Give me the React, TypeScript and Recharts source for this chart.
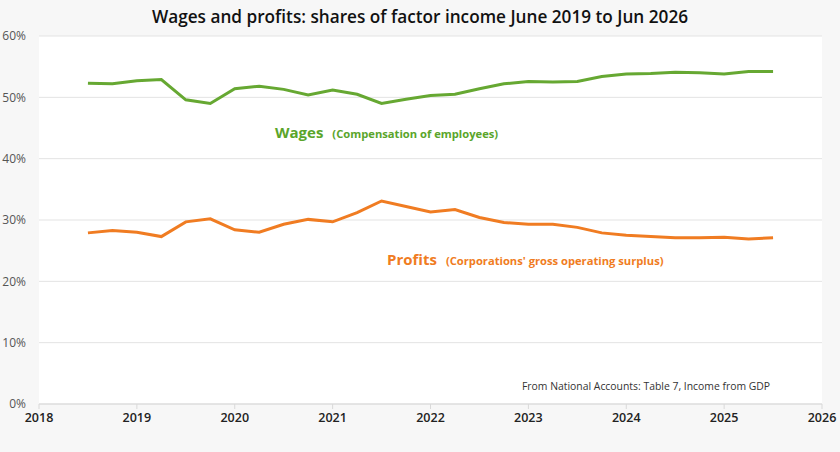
import { LineChart, Line, XAxis, YAxis, CartesianGrid } from "recharts";

// quarterly observations, as decimal years
const quarters = [
  2018.5, 2018.75, 2019.0, 2019.25, 2019.5, 2019.75, 2020.0, 2020.25, 2020.5, 2020.75,
  2021.0, 2021.25, 2021.5, 2021.75, 2022.0, 2022.25, 2022.5, 2022.75, 2023.0, 2023.25,
  2023.5, 2023.75, 2024.0, 2024.25, 2024.5, 2024.75, 2025.0, 2025.25, 2025.5,
];

// wages share (compensation of employees), %
const wages = [
  52.3, 52.2, 52.7, 52.9, 49.6, 49.0, 51.4, 51.8, 51.3, 50.4,
  51.2, 50.5, 49.0, 49.7, 50.3, 50.5, 51.4, 52.2, 52.6, 52.5,
  52.6, 53.4, 53.8, 53.9, 54.1, 54.0, 53.8, 54.2, 54.2,
];

// profits share (corporations' gross operating surplus), %
const profits = [
  27.9, 28.3, 28.0, 27.3, 29.7, 30.2, 28.4, 28.0, 29.3, 30.1,
  29.7, 31.2, 33.1, 32.2, 31.3, 31.7, 30.4, 29.6, 29.3, 29.3,
  28.8, 27.9, 27.5, 27.3, 27.1, 27.1, 27.2, 26.9, 27.1,
];

const yearTicks = [2018, 2019, 2020, 2021, 2022, 2023, 2024, 2025, 2026];
const pctTicks = [0, 10, 20, 30, 40, 50, 60];

const title = "Wages and profits: shares of factor income June 2019 to Jun 2026";
const source = "From National Accounts: Table 7, Income from GDP";

const GREEN = "#66a832";
const ORANGE = "#f07c22";
const FONT = "'Open Sans', 'Noto Sans', sans-serif";

export default function App() {
  const data = quarters.map((q, i) => ({ q, wages: wages[i], profits: profits[i] }));

  return (
    <div
      style={{
        position: "absolute",
        left: 0,
        top: 0,
        width: 840,
        height: 452,
        background: "#f7f7f7",
        fontFamily: FONT,
      }}
    >
      <div
        style={{
          position: "absolute",
          top: 5,
          left: 0,
          width: 840,
          textAlign: "center",
          fontSize: 17.2,
          fontWeight: 600,
          color: "#111",
          whiteSpace: "nowrap",
        }}
      >
        {title}
      </div>

      <LineChart
        width={840}
        height={452}
        data={data}
        margin={{ top: 36, right: 18, bottom: 18, left: 0 }}
      >
        <CartesianGrid vertical={false} stroke="#e3e3e3" fill="#ffffff" />
        <XAxis
          dataKey="q"
          type="number"
          domain={[2018, 2026]}
          ticks={yearTicks}
          height={30}
          tickSize={5}
          tickMargin={4}
          stroke="#d9d9d9"
          tick={{ fill: "#222", fontSize: 12.5, fontWeight: 600, fontFamily: FONT }}
        />
        <YAxis
          type="number"
          domain={[0, 60]}
          ticks={pctTicks}
          width={39}
          axisLine={false}
          tickLine={false}
          tickSize={0}
          tickMargin={13}
          tickFormatter={(v) => `${v}%`}
          tick={{ fill: "#555", fontSize: 12, fontFamily: FONT }}
        />
        <Line
          dataKey="wages"
          stroke={GREEN}
          strokeWidth={3}
          dot={false}
          isAnimationActive={false}
        />
        <Line
          dataKey="profits"
          stroke={ORANGE}
          strokeWidth={3}
          dot={false}
          isAnimationActive={false}
        />
      </LineChart>

      <div
        style={{
          position: "absolute",
          left: 275,
          top: 121,
          color: "#5aa52a",
          fontWeight: 700,
          whiteSpace: "nowrap",
        }}
      >
        <span style={{ fontSize: 15 }}>Wages</span>
        <span style={{ fontSize: 11.2, marginLeft: 9 }}>(Compensation of employees)</span>
      </div>

      <div
        style={{
          position: "absolute",
          left: 387,
          top: 248,
          color: ORANGE,
          fontWeight: 700,
          whiteSpace: "nowrap",
        }}
      >
        <span style={{ fontSize: 15 }}>Profits</span>
        <span style={{ fontSize: 11.2, marginLeft: 9 }}>(Corporations' gross operating surplus)</span>
      </div>

      <div
        style={{
          position: "absolute",
          left: 522,
          top: 379,
          fontSize: 10.4,
          color: "#333",
          whiteSpace: "nowrap",
        }}
      >
        {source}
      </div>
    </div>
  );
}
